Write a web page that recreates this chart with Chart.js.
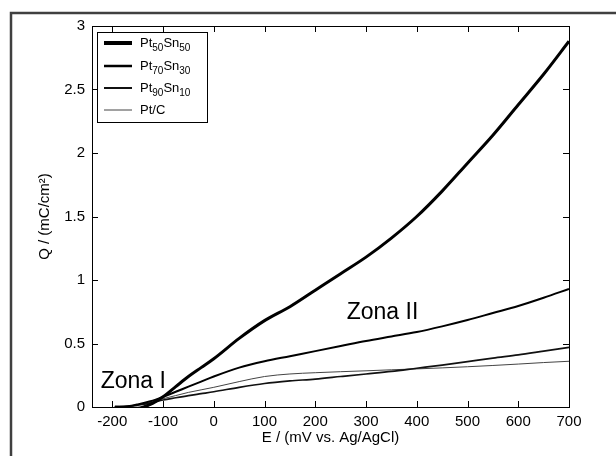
<!DOCTYPE html>
<html>
<head>
<meta charset="utf-8">
<script src="https://cdn.jsdelivr.net/npm/chart.js@4/dist/chart.umd.min.js"></script>
<style>
  body { margin: 0; background: #fff; }
  #wrap { width: 616px; height: 456px; }
</style>
</head>
<body>
<div id="wrap"><canvas id="chart" width="616" height="456"></canvas></div>
<script>
// potential (mV vs. Ag/AgCl), shared by every curve
var potentials = [-195, -170, -150, -125, -100, -75, -50, -25, 0, 50, 100, 150, 200, 250, 300, 350, 400, 450, 500, 550, 600, 650, 700];

// charge, mC/cm2
var qPt50Sn50 = [0, -0.005, -0.01, 0.02, 0.08, 0.16, 0.24, 0.31, 0.38, 0.54, 0.68, 0.79, 0.92, 1.05, 1.18, 1.33, 1.50, 1.70, 1.92, 2.14, 2.38, 2.62, 2.88];
var qPt70Sn30 = [0, 0.005, 0.02, 0.045, 0.08, 0.12, 0.16, 0.20, 0.24, 0.31, 0.36, 0.40, 0.44, 0.48, 0.52, 0.555, 0.59, 0.635, 0.685, 0.74, 0.795, 0.86, 0.93];
var qPt90Sn10 = [0, 0.005, 0.015, 0.03, 0.055, 0.073, 0.09, 0.105, 0.12, 0.155, 0.185, 0.205, 0.22, 0.24, 0.26, 0.28, 0.305, 0.33, 0.357, 0.385, 0.41, 0.44, 0.47];
var qPtC = [0, 0.005, 0.015, 0.035, 0.065, 0.09, 0.115, 0.135, 0.155, 0.20, 0.24, 0.26, 0.27, 0.278, 0.285, 0.293, 0.30, 0.308, 0.317, 0.327, 0.338, 0.35, 0.36];

var seriesNames = ['Pt50Sn50', 'Pt70Sn30', 'Pt90Sn10', 'Pt/C'];

var xTicks = [-200, -100, 0, 100, 200, 300, 400, 500, 600, 700];
var yTicks = [0, 0.5, 1, 1.5, 2, 2.5, 3];

var zones = [
  { text: 'Zona I', e: -223, q: 0.15 },
  { text: 'Zona II', e: 262, q: 0.69 }
];

var FONT = 'Arial, "Liberation Sans", sans-serif';

function pts(ys) {
  return potentials.map(function(e, i) { return { x: e, y: ys[i] }; });
}

var styles = [
  { color: '#000', width: 3, legendWidth: 4 },
  { color: '#000', width: 2, legendWidth: 2.5 },
  { color: '#111', width: 1.7, legendWidth: 2 },
  { color: '#444', width: 1, legendWidth: 1 }
];

//--------------------------------------------------------------------
// * frame, inward ticks, box, legend and zone labels
//--------------------------------------------------------------------
var decor = {
  id: 'decor',
  beforeDraw: function(chart) {
    var c = chart.ctx;
    c.save();
    c.fillStyle = '#fff';
    c.fillRect(0, 0, chart.width, chart.height);
    c.strokeStyle = '#404040';
    c.lineWidth = 2.5;
    c.beginPath();
    c.moveTo(11, chart.height);
    c.lineTo(11, 13);
    c.lineTo(chart.width, 13);
    c.stroke();
    c.restore();
  },
  afterDatasetsDraw: function(chart) {
    var c = chart.ctx, a = chart.chartArea;
    var xs = chart.scales.x, ys = chart.scales.y;
    c.save();
    c.strokeStyle = '#000';
    c.lineWidth = 1;
    c.strokeRect(a.left + 0.5, a.top + 0.5, a.right - a.left, a.bottom - a.top);

    c.beginPath();
    xTicks.forEach(function(v) {
      var px = Math.round(xs.getPixelForValue(v)) + 0.5;
      c.moveTo(px, a.bottom); c.lineTo(px, a.bottom - 6);
      c.moveTo(px, a.top); c.lineTo(px, a.top + 6);
    });
    yTicks.forEach(function(v) {
      var py = Math.round(ys.getPixelForValue(v)) + 0.5;
      c.moveTo(a.left, py); c.lineTo(a.left + 6, py);
      c.moveTo(a.right, py); c.lineTo(a.right - 6, py);
    });
    c.stroke();

    // zone labels
    c.fillStyle = '#000';
    c.font = '23px ' + FONT;
    c.textBaseline = 'alphabetic';
    zones.forEach(function(z) {
      c.fillText(z.text, xs.getPixelForValue(z.e), ys.getPixelForValue(z.q));
    });

    // legend
    var lx = 97, ly = 32, lw = 110, lh = 90;
    c.fillStyle = '#fff';
    c.fillRect(lx, ly, lw, lh);
    c.strokeStyle = '#000';
    c.lineWidth = 1;
    c.strokeRect(lx + 0.5, ly + 0.5, lw, lh);
    var rows = [43, 66, 88, 110];
    seriesNames.forEach(function(name, i) {
      var y = rows[i];
      c.strokeStyle = styles[i].color;
      c.lineWidth = styles[i].legendWidth;
      c.beginPath();
      c.moveTo(104, y); c.lineTo(132, y);
      c.stroke();
      var x = 140;
      c.fillStyle = '#000';
      c.textBaseline = 'middle';
      name.split(/(\d+)/).forEach(function(part) {
        if (!part) return;
        if (/^\d+$/.test(part)) {
          c.font = '10px ' + FONT;
          c.fillText(part, x, y + 5);
        } else {
          c.font = '13px ' + FONT;
          c.fillText(part, x, y);
        }
        x += c.measureText(part).width;
      });
    });
    c.restore();
  }
};

//--------------------------------------------------------------------
// * Make the Chart
//--------------------------------------------------------------------
function makeChart() {
    var ctx = document.getElementById('chart').getContext('2d');
    var series = [qPt50Sn50, qPt70Sn30, qPt90Sn10, qPtC];
    var chart = new Chart(ctx, {
        type: 'scatter',
        data: {
            datasets: series.map(function(s, i) {
                return {
                    label: seriesNames[i],
                    data: pts(s),
                    showLine: true,
                    borderColor: styles[i].color,
                    backgroundColor: styles[i].color,
                    borderWidth: styles[i].width,
                    pointRadius: 0,
                    cubicInterpolationMode: 'monotone'
                };
            })
        },
        options: {
            responsive: false,
            animation: false,
            devicePixelRatio: 1,
            layout: { padding: { top: 26, right: 47, left: 0, bottom: 0 } },
            plugins: { legend: { display: false }, tooltip: { enabled: false } },
            scales: {
                x: {
                    type: 'linear',
                    min: -240, max: 700,
                    grid: { display: false, drawTicks: false, tickLength: 0 },
                    border: { display: false },
                    afterFit: function(s) { s.height = 49; },
                    afterBuildTicks: function(s) { s.ticks = xTicks.map(function(v) { return { value: v }; }); },
                    ticks: { color: '#000', padding: 6, maxRotation: 0, autoSkip: false,
                             callback: function(v) { return String(v); },
                             font: { family: FONT, size: 15 } },
                    title: { display: true, text: 'E / (mV vs. Ag/AgCl)', color: '#000',
                             padding: { top: 0, bottom: 9 },
                             font: { family: FONT, size: 15 } }
                },
                y: {
                    type: 'linear',
                    min: 0, max: 3,
                    grid: { display: false, drawTicks: false, tickLength: 0 },
                    border: { display: false },
                    afterFit: function(s) { s.width = 92; },
                    afterBuildTicks: function(s) { s.ticks = yTicks.map(function(v) { return { value: v }; }); },
                    ticks: { color: '#000', padding: 7,
                             callback: function(v) { return String(v); },
                             font: { family: FONT, size: 15 } },
                    title: { display: true, text: 'Q / (mC/cm²)', color: '#000',
                             padding: { top: 36, bottom: 0 },
                             font: { family: FONT, size: 15 } }
                }
            }
        },
        plugins: [decor]
    });
}

makeChart();
</script>
</body>
</html>
